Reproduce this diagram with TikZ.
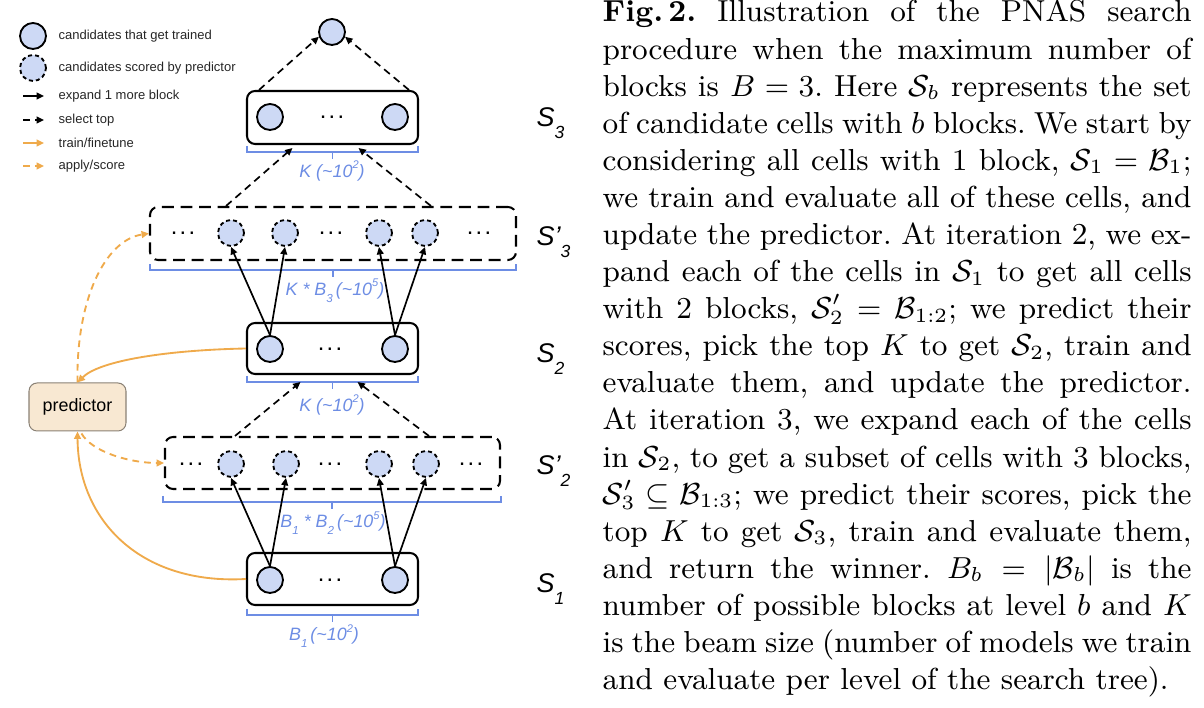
\documentclass[tikz,border=0pt]{standalone}
\usepackage{amsmath}
\usepackage{fontspec}
\usepackage{tikz}
\usetikzlibrary{arrows.meta,calc}
\newfontfamily\arial{Liberation Sans}
\definecolor{candfill}{HTML}{CDD9F5}
\definecolor{beamblue}{HTML}{6D8DE4}
\definecolor{trainorg}{HTML}{EFAA4B}
\definecolor{predfill}{HTML}{F8E8D2}
\definecolor{predline}{HTML}{8A8175}
\newcommand{\pxu}{0.2963pt}
\newlength{\capw}\setlength{\capw}{174.5pt}
\newcommand{\capline}[1]{\hbox to \capw{#1}}
\newcommand{\lsub}[1]{\raisebox{-0.42em}{\scalebox{0.65}{#1}}}
\newcommand{\lsup}[1]{\raisebox{0.45em}{\scalebox{0.62}{#1}}}
\newcommand{\etc}{.\kern0.1em.\kern0.1em.}
\tikzset{
  cand/.style      = {circle, draw=black, fill=candfill, line width=0.55pt, minimum size=26*\pxu, inner sep=0pt},
  scored/.style    = {cand, dash pattern=on 1.2pt off 0.9pt},
  beam/.style      = {rectangle, rounded corners=2.4pt, draw=black, line width=0.6pt, inner sep=0pt,
                      minimum width=171*\pxu, minimum height=53*\pxu},
  pool/.style      = {beam, dash pattern=on 3.5pt off 2pt},
  dots/.style      = {inner sep=0pt, font=\arial\fontsize{7}{8}\selectfont},
  expand/.style    = {-{Triangle[length=2.2pt,width=2pt]}, line width=0.5pt},
  selecttop/.style = {expand, dash pattern=on 2.2pt off 1.5pt},
  train/.style     = {expand, draw=trainorg, line width=0.55pt},
  apply/.style     = {train, dash pattern=on 2pt off 1.5pt},
  brace/.style     = {draw=beamblue, line width=0.45pt},
  beamlbl/.style   = {inner sep=0pt, text=beamblue, font=\arial\itshape\fontsize{5.3}{6}\selectfont},
  setlbl/.style    = {inner sep=0pt, anchor=base west, font=\arial\itshape\fontsize{8}{9}\selectfont},
  legend/.style    = {inner sep=0pt, anchor=west, text=black!85, font=\arial\fontsize{3.85}{4.6}\selectfont},
  predbox/.style   = {rectangle, rounded corners=2.4pt, draw=predline, fill=predfill, line width=0.3pt,
                      minimum width=97*\pxu, minimum height=48*\pxu, font=\arial\fontsize{5.3}{6}\selectfont},
}

\begin{document}
\begin{tikzpicture}[x=\pxu, y=-\pxu]
  \useasboundingbox (0,0) rectangle (1204,708);

  %% ---- legend ------------------------------------------------------------------
  \node[cand]   (lgT) at (33,36) {};
  \node[scored] (lgS) at (33,68) {};
  \node[legend] (lgTt) at (58,36) {candidates that get trained};
  \node[legend] (lgSt) at (58,68) {candidates scored by predictor};
  \foreach \y/\sty/\lbl in {96/expand/{expand 1 more block}, 120/selecttop/{select top},
                            143/train/{train/finetune}, 166/apply/{apply/score}} {
    \draw[\sty] (23,\y) -- (44,\y);
    \node[legend] at (58,\y) {\lbl};
  }

  %% ---- the beam, level by level --------------------------------------------------
  \node[cand] (win) at (332,32) {};

  % S_3: top K, trained
  \node[beam] (s3) at (332.5,117.5) {};
  \node[cand] (s3a) at (270,117) {};
  \node[cand] (s3b) at (395,117) {};
  \node[dots] (s3d) at (332,117) {\etc};

  % S'_3: expanded, scored
  \node[pool, minimum width=366*\pxu] (s3p) at (333,233.5) {};
  \foreach \x [count=\i] in {231,285,379,425} \node[scored] (q3\i) at (\x,233) {};
  \foreach \x [count=\i] in {183,331,479} \node[dots] (d3\i) at (\x,233) {\etc};

  % S_2
  \node[beam, minimum height=51*\pxu] (s2) at (332.5,348.5) {};
  \node[cand] (s2a) at (270,349) {};
  \node[cand] (s2b) at (395,349) {};
  \node[dots] (s2d) at (330,349) {\etc};

  % S'_2
  \node[pool, minimum width=335*\pxu, minimum height=52*\pxu] (s2p) at (332.5,463) {};
  \foreach \x [count=\i] in {231,286,379,426} \node[scored] (q2\i) at (\x,464) {};
  \foreach \x [count=\i] in {191,330,471} \node[dots] (d2\i) at (\x,464) {\etc};

  % S_1
  \node[beam, minimum height=52*\pxu] (s1) at (332.5,579) {};
  \node[cand] (s1a) at (270,580) {};
  \node[cand] (s1b) at (395,580) {};
  \node[dots] (s1d) at (330,580) {\etc};

  % level names
  \node[setlbl] (l3)  at (536,127) {S\lsub{3}};
  \node[setlbl] (l3p) at (536,246) {S’\lsub{3}};
  \node[setlbl] (l2)  at (536,363) {S\lsub{2}};
  \node[setlbl] (l2p) at (536,475) {S’\lsub{2}};
  \node[setlbl] (l1)  at (536,593) {S\lsub{1}};

  % size brackets under each set
  \foreach \xa/\xb/\yb in {247/418/152, 150/516/270, 247/418/382, 163/501/502, 247/418/615} {
    \draw[brace] (\xa,\yb-6) -- (\xa,\yb) -- (\xb,\yb) -- (\xb,\yb-6);
    \draw[brace] ({(\xa+\xb)/2},\yb) -- ++(0,7);
  }
  \node[beamlbl] (n3)  at (332,171) {K (\textasciitilde 10\lsup{2})};
  \node[beamlbl] (n3p) at (335,291) {K * B\lsub{3}\,(\textasciitilde 10\lsup{5})};
  \node[beamlbl] (n2)  at (332,405) {K (\textasciitilde 10\lsup{2})};
  \node[beamlbl] (n2p) at (333,523) {B\lsub{1} * B\lsub{2}\,(\textasciitilde 10\lsup{5})};
  \node[beamlbl] (n1)  at (324,636) {B\lsub{1}\,(\textasciitilde 10\lsup{2})};

  % expand 1 more block
  \foreach \f/\t in {s2a/q31, s2a/q32, s2b/q33, s2b/q34, s1a/q21, s1a/q22, s1b/q23, s1b/q24}
    \draw[expand] (\f.north) -- (\t.south);

  % select top
  \coordinate (k3l) at ($(s3.south)+(-40,3)$);
  \coordinate (k3r) at ($(s3.south)+(26,3)$);
  \coordinate (k2l) at ($(s2.south)+(-32,7)$);
  \coordinate (k2r) at ($(s2.south)+(25,7)$);
  \draw[selecttop] ($(s3p.north)+(-107,0)$) -- (k3l);
  \draw[selecttop] ($(s3p.north)+(98,0)$) -- (k3r);
  \draw[selecttop] ($(s2p.north)+(-97.5,0)$) -- (k2l);
  \draw[selecttop] ($(s2p.north)+(96.5,0)$) -- (k2r);
  \draw[selecttop] ($(s3.north west)+(13,0)$) -- (win.200);
  \draw[selecttop] ($(s3.north east)+(-10,0)$) -- (win.340);

  %% ---- predictor and its loop ------------------------------------------------------
  \node[predbox] (pred) at (77.5,407) {predictor};
  \draw[apply] (pred.north) .. controls (76,300) and (105,240) .. (s3p.west);
  \draw[train] (s2.west) .. controls (170,350) and (100,360) .. (pred.north);
  \draw[apply] ($(pred.south)+(4,2)$) .. controls (92,452) and (130,463) .. (s2p.west);
  \draw[train] (s1.west) .. controls (140,585) and (78,520) .. (pred.south);

  %% ---- caption -------------------------------------------------------------------
  \node[anchor=base west, inner sep=0pt] (caption) at (602,22) {\parbox[t]{\capw}{\fontsize{9}{10.99}\selectfont\frenchspacing
    \capline{\textbf{Fig.\,2.} Illustration of the PNAS search}
    \capline{procedure when the maximum number of}
    \capline{blocks is $B=3$. Here $\mathcal{S}_b$ represents the set}
    \capline{of candidate cells with $b$ blocks. We start by}
    \capline{considering all cells with 1 block, $\mathcal{S}_1=\mathcal{B}_1$;}
    \capline{we train and evaluate all of these cells, and}
    \capline{update the predictor. At iteration 2, we ex-}
    \capline{pand each of the cells in $\mathcal{S}_1$ to get all cells}
    \capline{with 2 blocks, $\mathcal{S}'_2=\mathcal{B}_{1:2}$; we predict their}
    \capline{scores, pick the top $K$ to get $\mathcal{S}_2$, train and}
    \capline{evaluate them, and update the predictor.}
    \capline{At iteration 3, we expand each of the cells}
    \capline{in $\mathcal{S}_2$, to get a subset of cells with 3 blocks,}
    \capline{$\mathcal{S}'_3\subseteq\mathcal{B}_{1:3}$; we predict their scores, pick the}
    \capline{top $K$ to get $\mathcal{S}_3$, train and evaluate them,}
    \capline{and return the winner. $B_b=|\mathcal{B}_b|$ is the}
    \capline{number of possible blocks at level $b$ and $K$}
    \capline{is the beam size (number of models we train}
    \hbox{and evaluate per level of the search tree).}}};
\end{tikzpicture}
\end{document}
